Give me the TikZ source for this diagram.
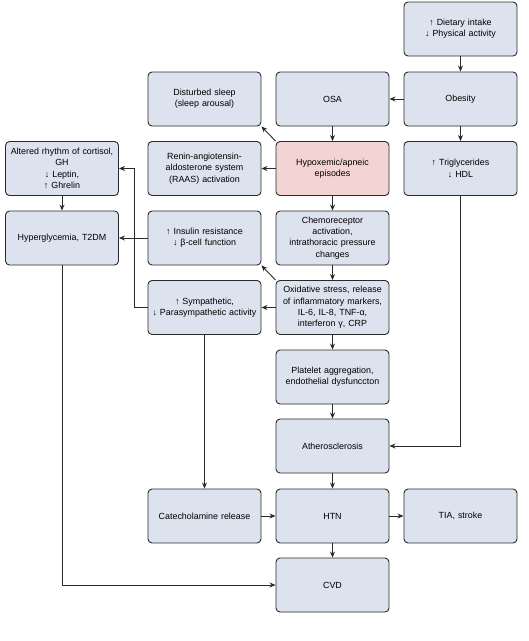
\documentclass[tikz,border=0pt]{standalone}
\usepackage{fontspec}
\setmainfont{Liberation Sans}
\usetikzlibrary{arrows.meta}
\definecolor{boxfill}{HTML}{DDE2EF}
\definecolor{pinkfill}{HTML}{F3D4D2}
\definecolor{edge}{HTML}{2A2A2A}
\tikzset{
  box/.style={draw=edge, line width=0.9pt, fill=boxfill, rounded corners=4pt,
    minimum width=113pt, minimum height=54pt, text width=111pt, align=center,
    inner sep=1pt, font=\fontsize{8.9}{11.3}\selectfont},
  hot/.style={box, fill=pinkfill},
  arr/.style={draw=edge, line width=0.9pt, -{Stealth[length=6pt,width=5pt]}}
}
\begin{document}
\begin{tikzpicture}[x=1pt,y=-1pt]
\useasboundingbox (0,0) rectangle (529,641);
% columns: 62, 204.5, 332.5, 460.5
\node[box] (diet) at (460.5,29) {↑ Dietary intake\\↓ Physical activity};
\node[box] (sleep) at (204.5,99) {Disturbed sleep\\(sleep arousal)};
\node[box] (osa) at (332.5,99) {OSA};
\node[box] (obes) at (460.5,99) {Obesity};
\node[box] (alt) at (62,168.5) {Altered rhythm of cortisol,\\GH\\↓ Leptin,\\↑ Ghrelin};
\node[box] (raas) at (204.5,168.5) {Renin-angiotensin-\\aldosterone system\\(RAAS) activation};
\node[hot] (hypo) at (332.5,168.5) {Hypoxemic/apneic\\episodes};
\node[box] (tri) at (460.5,168.5) {↑ Triglycerides\\↓ HDL};
\node[box] (hyper) at (62,238) {Hyperglycemia, T2DM};
\node[box] (ins) at (204.5,238) {↑ Insulin resistance\\↓ β-cell function};
\node[box] (chemo) at (332.5,238) {Chemoreceptor\\activation,\\intrathoracic pressure\\changes};
\node[box] (symp) at (204.5,307.5) {↑ Sympathetic,\\↓ Parasympathetic activity};
\node[box] (oxi) at (332.5,307.5) {Oxidative stress, release\\of inflammatory markers,\\IL-6, IL-8, TNF-α,\\interferon γ, CRP};
\node[box] (plat) at (332.5,377) {Platelet aggregation,\\endothelial dysfunccton};
\node[box] (ath) at (332.5,446) {Atherosclerosis};
\node[box] (cat) at (204.5,516) {Catecholamine release};
\node[box] (htn) at (332.5,516) {HTN};
\node[box] (tia) at (460.5,516) {TIA, stroke};
\node[box] (cvd) at (332.5,585) {CVD};

\draw[arr] (diet) -- (obes);
\draw[arr] (obes) -- (osa);
\draw[arr] (obes) -- (tri);
\draw[arr] (tri.south) |- (ath.east);
\draw[arr] (osa) -- (hypo);
\draw[arr] (hypo.north west) -- (sleep.south east);
\draw[arr] (hypo) -- (raas);
\draw[arr] (hypo) -- (chemo);
\draw[arr] (chemo) -- (oxi);
\draw[arr] (oxi.north west) -- (ins.south east);
\draw[arr] (oxi) -- (symp);
\draw[arr] (oxi) -- (plat);
\draw[arr] (plat) -- (ath);
\draw[arr] (ath) -- (htn);
\coordinate (bend) at (134,0);
\draw[arr] (symp.west) -| (bend |- alt.east) -- (alt.east);
\draw[arr] (ins) -- (hyper);
\draw[arr] (alt) -- (hyper);
\draw[arr] (symp) -- (cat);
\draw[arr] (cat) -- (htn);
\draw[arr] (htn) -- (tia);
\draw[arr] (htn) -- (cvd);
\draw[arr] (hyper.south) |- (cvd.west);
\end{tikzpicture}
\end{document}
